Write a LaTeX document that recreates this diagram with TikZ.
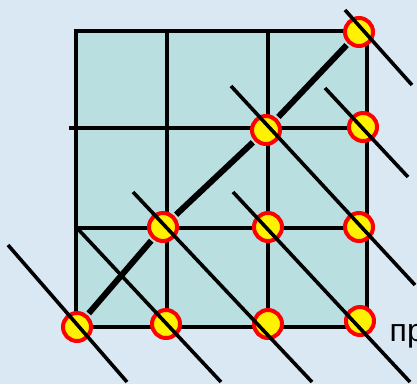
\documentclass[tikz,border=0pt]{standalone}
\usepackage{fontspec}
\setmainfont{Liberation Sans}
\definecolor{bgblue}{HTML}{DAE8F4}
\definecolor{cellfill}{HTML}{B9DFE1}

\begin{document}
\begin{tikzpicture}
[x=1pt,y=-1pt,
 pnt/.style={circle,draw=red,fill=yellow,line width=4pt,minimum size=28pt,inner sep=0pt},
 gridline/.style={line width=4pt,line cap=rect},
 main/.style={line width=6pt,shorten <=2pt,shorten >=2pt},
 cut/.style={line width=3.6pt}]

  \clip (0,0) rectangle (417,384);
  \fill[bgblue] (0,0) rectangle (417,384);
  \fill[cellfill] (76,31) rectangle (367,327);

  % grid
  \foreach \x in {76,167,268,367}
    \draw[gridline] (\x,31) -- (\x,327);
  \foreach \y in {31,228,327}
    \draw[gridline] (76,\y) -- (367,\y);
  \draw[gridline] (71,128) -- (367,128);

  % points
  \node[pnt] (b1) at (77,327) {};
  \node[pnt] (b2) at (166,324) {};
  \node[pnt] (b3) at (268,324) {};
  \node[pnt] (b4) at (360,321) {};
  \node[pnt] (m1) at (163,227) {};
  \node[pnt] (m2) at (268,227) {};
  \node[pnt] (m3) at (359,227) {};
  \node[pnt] (u1) at (266,130) {};
  \node[pnt] (u2) at (363,127) {};
  \node[pnt] (t1) at (359,32) {};

  \foreach \from/\to in {b1/m1, m1/u1, u1/t1}
    \draw[main] (\from) -- (\to);

  % cutting lines
  \foreach \n/\xa/\ya/\xb/\yb in {1/345/10/412/85, 2/325/88/408/177,
      3/231/86/415/285, 4/233/192/410/382, 5/133/192/312/382,
      6/77/228/221/382, 7/8/245/127/382}
  {
    \coordinate (s\n) at (\xa,\ya);
    \coordinate (e\n) at (\xb,\yb);
  }
  \foreach \n in {1,...,7}
    \draw[cut] (s\n) -- (e\n);

  \node[inner sep=0pt,anchor=base west,font=\fontsize{32}{36}\selectfont] (lbl) at (389.5,341.7) {пр};

\end{tikzpicture}
\end{document}
